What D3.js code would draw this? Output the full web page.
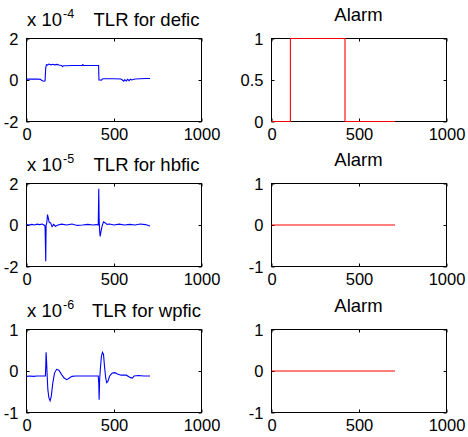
<!DOCTYPE html>
<html>
<head>
<meta charset="utf-8">
<script src="https://cdn.jsdelivr.net/npm/d3@7"></script>
<style>
  html, body { margin: 0; padding: 0; background: #fff; }
  svg { display: block; }
  text { font-family: "Liberation Sans", Arial, sans-serif; fill: #000; }
</style>
</head>
<body>
<svg id="fig" width="468" height="437"></svg>
<script>
// Sample index for every trace (x axis 0..1000)
const xTicks = [0, 500, 1000];

// TLR for defic, scaled by 1e-4
const deficX = [0, 20, 40, 60, 80, 88, 95, 100, 106, 110, 114, 120, 128, 140, 150, 160, 175, 185, 200, 206, 212, 230, 260, 300, 318, 322, 326, 340, 380, 412, 414, 420, 428, 434, 440, 460, 500, 540, 548, 556, 562, 570, 578, 586, 594, 602, 620, 650, 680, 706];
const deficY = [0.04, 0.05, 0.04, 0.05, 0.03, -0.03, -0.05, -0.06, -0.04, 0.6, 0.74, 0.72, 0.77, 0.73, 0.76, 0.73, 0.75, 0.72, 0.70, 0.64, 0.69, 0.69, 0.70, 0.70, 0.70, 0.74, 0.70, 0.70, 0.70, 0.70, 0.0, 0.0, -0.01, 0.05, 0.06, 0.06, 0.06, 0.05, 0.0, -0.06, 0.02, -0.05, 0.03, -0.03, 0.04, 0.0, 0.05, 0.06, 0.07, 0.07];
const deficTicks = [-2, 0, 2];

// TLR for hbfic, scaled by 1e-5
const hbficX = [0, 15, 30, 45, 60, 75, 90, 100, 106, 110, 112, 116, 120, 124, 130, 138, 146, 155, 165, 180, 200, 230, 260, 290, 320, 350, 380, 400, 410, 413, 415, 418, 421, 426, 432, 440, 450, 460, 475, 500, 530, 560, 590, 620, 650, 680, 706];
const hbficY = [0.02, 0.0, 0.03, 0.0, 0.04, 0.02, 0.05, 0.0, -0.05, -1.75, 0.0, 0.1, 0.5, 0.35, 0.12, 0.1, -0.08, 0.03, -0.06, 0.0, 0.04, 0.0, 0.05, -0.02, 0.0, 0.03, 0.0, 0.02, 0.0, 1.75, 0.3, -0.3, -0.55, -0.3, -0.05, 0.15, 0.1, 0.03, 0.05, 0.0, 0.04, 0.0, 0.03, 0.0, 0.05, 0.02, -0.05];
const hbficTicks = [-2, 0, 2];

// TLR for wpfic, scaled by 1e-6
const wpficX = [0, 20, 40, 60, 80, 100, 108, 110, 112, 114, 118, 122, 128, 135, 142, 150, 160, 172, 185, 200, 215, 230, 245, 260, 280, 320, 360, 400, 410, 413, 415, 418, 422, 428, 434, 440, 446, 452, 458, 465, 475, 490, 505, 520, 540, 570, 595, 605, 615, 640, 670, 706];
const wpficY = [-0.13, -0.12, -0.13, -0.12, -0.12, -0.12, -0.12, 0.1, 0.45, 0.3, -0.1, -0.45, -0.65, -0.72, -0.6, -0.3, -0.05, 0.04, 0.02, -0.08, -0.17, -0.21, -0.17, -0.13, -0.12, -0.12, -0.12, -0.12, -0.12, -0.3, -0.69, -0.2, 0.05, 0.35, 0.45, 0.4, 0.1, -0.15, -0.28, -0.25, -0.12, -0.05, -0.04, -0.07, -0.1, -0.1, -0.16, -0.17, -0.12, -0.11, -0.12, -0.12];
const wpficTicks = [-1, 0, 1];

// Alarm states (step changes)
const alarm1X = [0, 108, 420, 706];
const alarm1Y = [0, 1, 0, 0];
const alarm1Ticks = [0, 0.5, 1];
const alarm2X = [0, 706];
const alarm2Y = [0, 0];
const alarm3X = [0, 706];
const alarm3Y = [0, 0];
const alarmTicks = [-1, 0, 1];

const svg = d3.select("#fig");
const W = 175, H = 83;
const colLeft = [26, 271];
const rowTop = [38, 183, 329];

const panels = [
  { col: 0, row: 0, xs: deficX, ys: deficY, yTicks: deficTicks, color: "#0000ff", title: "TLR for defic", exp: "-4" },
  { col: 1, row: 0, xs: alarm1X, ys: alarm1Y, yTicks: alarm1Ticks, color: "#ff0000", title: "Alarm", step: true },
  { col: 0, row: 1, xs: hbficX, ys: hbficY, yTicks: hbficTicks, color: "#0000ff", title: "TLR for hbfic", exp: "-5" },
  { col: 1, row: 1, xs: alarm2X, ys: alarm2Y, yTicks: alarmTicks, color: "#ff0000", title: "Alarm", step: true },
  { col: 0, row: 2, xs: wpficX, ys: wpficY, yTicks: wpficTicks, color: "#0000ff", title: "TLR for wpfic", exp: "-6" },
  { col: 1, row: 2, xs: alarm3X, ys: alarm3Y, yTicks: alarmTicks, color: "#ff0000", title: "Alarm", step: true },
];

// plain hyphen-minus, like "-2"
const tickFmt = d => String(d);

panels.forEach(p => {
  const x0 = colLeft[p.col], y0 = rowTop[p.row];
  const g = svg.append("g").attr("transform", `translate(${x0},${y0})`);
  const x = d3.scaleLinear().domain([0, 1000]).range([0, W]);
  const y = d3.scaleLinear().domain(d3.extent(p.yTicks)).range([H, 0]);

  // box
  g.append("rect").attr("x", 0.5).attr("y", 0.5).attr("width", W).attr("height", H)
    .attr("fill", "none").attr("stroke", "#000").attr("stroke-width", 1);

  // inward ticks on all four sides, labels on bottom and left
  const axB = d3.axisBottom(x).tickValues(xTicks).tickSize(-3).tickPadding(7).tickFormat(tickFmt);
  const axT = d3.axisTop(x).tickValues(xTicks).tickSize(-3).tickFormat("");
  const axL = d3.axisLeft(y).tickValues(p.yTicks).tickSize(-3).tickPadding(8).tickFormat(tickFmt);
  const axR = d3.axisRight(y).tickValues(p.yTicks).tickSize(-3).tickFormat("");

  const gb = g.append("g").attr("transform", `translate(0.5,${H + 0.5})`).call(axB);
  const gt = g.append("g").attr("transform", "translate(0.5,0.5)").call(axT);
  const gl = g.append("g").attr("transform", "translate(0.5,0.5)").call(axL);
  const gr = g.append("g").attr("transform", `translate(${W + 0.5},0.5)`).call(axR);
  [gb, gt, gl, gr].forEach(a => {
    a.select(".domain").remove();
    a.selectAll("line").attr("stroke", "#000");
    a.selectAll("text").style("font-family", '"Liberation Sans", Arial, sans-serif')
      .style("font-size", "16.5px").attr("fill", "#000");
  });
  gb.selectAll("text").attr("dy", "0.71em");
  gl.selectAll("text").attr("dy", "0.36em");

  // trace, drawn over the box
  const pts = p.xs.map((v, i) => [v, p.ys[i]]);
  const line = d3.line().x(d => x(d[0]) + 0.5).y(d => y(d[1]) + 0.5);
  if (p.step) line.curve(d3.curveStepAfter);
  g.append("path").datum(pts)
    .attr("d", line)
    .attr("fill", "none")
    .attr("stroke", p.color)
    .attr("stroke-width", 1.1);

  // titles
  if (p.exp) {
    g.append("text").attr("x", W / 2 + 33).attr("y", -12)
      .attr("text-anchor", "middle").style("font-size", "18.5px").text(p.title);
    const t = g.append("text").attr("x", 1).attr("y", -12).style("font-size", "18.5px");
    t.append("tspan").text("x 10");
    t.append("tspan").attr("dy", -8).attr("dx", 1).style("font-size", "12.5px").text(p.exp);
  } else {
    g.append("text").attr("x", W / 2).attr("y", -17)
      .attr("text-anchor", "middle").style("font-size", "18.5px").text(p.title);
  }
});
</script>
</body>
</html>
